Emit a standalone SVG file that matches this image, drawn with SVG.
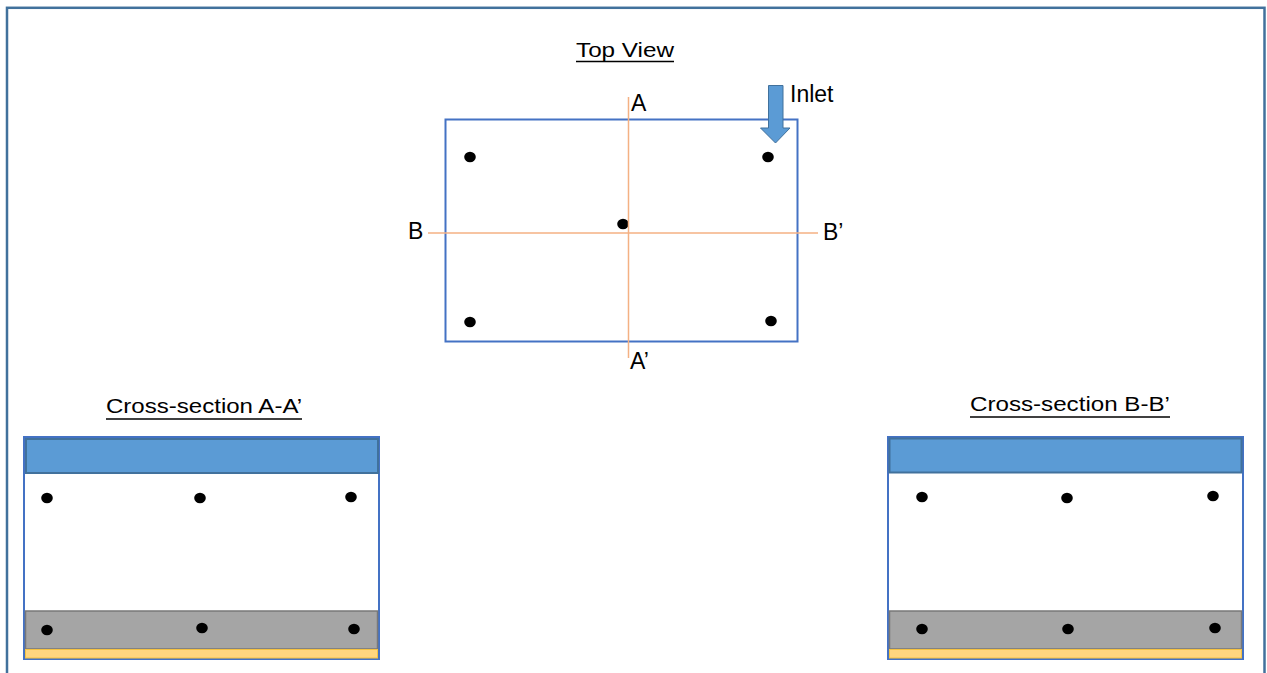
<svg xmlns="http://www.w3.org/2000/svg" width="1267" height="673" viewBox="0 0 1267 673">
  <style>
    .frame { fill: none; stroke: #41719c; stroke-width: 2.5; }
    .outline { fill: #ffffff; stroke: #4472c4; stroke-width: 2; }
    .cut { stroke: #f4b183; stroke-width: 1.5; fill: none; }
    .pt { fill: #000000; }
    .water { fill: #5b9bd5; stroke: #41719c; stroke-width: 2; }
    .bed { fill: #a5a5a5; stroke: #787878; stroke-width: 1.5; }
    .base { fill: #ffd67f; stroke: #f5c242; stroke-width: 1; }
    .title { font-family: "Liberation Sans", Arial, sans-serif; font-size: 20px; fill: #000; }
    .lbl { font-family: "Liberation Sans", Arial, sans-serif; font-size: 23px; fill: #000; }
    .ul { stroke: #000; stroke-width: 1.5; }
  </style>

  <rect width="1267" height="673" fill="#ffffff"/>
  <!-- page frame -->
  <rect class="frame" x="7" y="7.8" width="1257.5" height="700"/>

  <!-- plan view of the tank -->
  <g id="top-view">
    <text class="title" x="576" y="57" textLength="98" lengthAdjust="spacingAndGlyphs">Top View</text>
    <line class="ul" x1="576" y1="61.5" x2="674" y2="61.5"/>
    <rect class="outline" x="445.5" y="119.5" width="352" height="222"/>
    <ellipse class="pt" cx="470" cy="157" rx="5.8" ry="5.3"/>
    <ellipse class="pt" cx="768" cy="157" rx="5.8" ry="5.3"/>
    <ellipse class="pt" cx="623" cy="224" rx="5.8" ry="5.3"/>
    <ellipse class="pt" cx="470" cy="322" rx="5.8" ry="5.3"/>
    <ellipse class="pt" cx="771" cy="321" rx="5.8" ry="5.3"/>
  </g>

  <!-- section cut lines -->
  <g id="connectors">
    <line class="cut" x1="628.5" y1="97" x2="628.5" y2="358"/>
    <line class="cut" x1="428" y1="233" x2="818" y2="233"/>
  </g>

  <g id="cut-labels">
    <text class="lbl" x="631" y="111">A</text>
    <text class="lbl" x="630" y="369">A’</text>
    <text class="lbl" x="408" y="239">B</text>
    <text class="lbl" x="823" y="240">B’</text>
  </g>

  <!-- inlet arrow -->
  <g id="inlet">
    <path class="water" style="stroke-width:1" d="M768.5,85.5 H783 V128 H790 L775.5,143 L760.5,128 H768.5 Z"/>
    <text class="lbl" x="790" y="102">Inlet</text>
  </g>

  <!-- cross-section A-A' -->
  <g id="section-aa">
    <text class="title" x="106" y="413" textLength="196" lengthAdjust="spacingAndGlyphs">Cross-section A-A’</text>
    <line class="ul" x1="106" y1="419" x2="302" y2="419"/>
    <rect class="outline" x="24" y="437" width="355" height="222"/>
    <rect class="water" x="26" y="439" width="352" height="34"/>
    <rect class="bed" x="25.5" y="611" width="352" height="38"/>
    <rect class="base" x="25.5" y="649.5" width="352" height="8.5"/>
    <ellipse class="pt" cx="47" cy="498" rx="5.8" ry="5.3"/>
    <ellipse class="pt" cx="200" cy="498" rx="5.8" ry="5.3"/>
    <ellipse class="pt" cx="351" cy="497" rx="5.8" ry="5.3"/>
    <ellipse class="pt" cx="47" cy="630" rx="5.8" ry="5.3"/>
    <ellipse class="pt" cx="202" cy="628" rx="5.8" ry="5.3"/>
    <ellipse class="pt" cx="354" cy="629" rx="5.8" ry="5.3"/>
  </g>

  <!-- cross-section B-B' -->
  <g id="section-bb">
    <text class="title" x="970" y="411" textLength="200" lengthAdjust="spacingAndGlyphs">Cross-section B-B’</text>
    <line class="ul" x1="970" y1="417" x2="1170" y2="417"/>
    <rect class="outline" x="888" y="437" width="355" height="222"/>
    <rect class="water" x="889.5" y="438.5" width="352" height="34"/>
    <rect class="bed" x="889.5" y="611" width="352" height="38"/>
    <rect class="base" x="889.5" y="649.5" width="352" height="8.5"/>
    <ellipse class="pt" cx="922" cy="497" rx="5.8" ry="5.3"/>
    <ellipse class="pt" cx="1067" cy="498" rx="5.8" ry="5.3"/>
    <ellipse class="pt" cx="1213" cy="496" rx="5.8" ry="5.3"/>
    <ellipse class="pt" cx="922" cy="629" rx="5.8" ry="5.3"/>
    <ellipse class="pt" cx="1068" cy="629" rx="5.8" ry="5.3"/>
    <ellipse class="pt" cx="1215" cy="628" rx="5.8" ry="5.3"/>
  </g>
</svg>
